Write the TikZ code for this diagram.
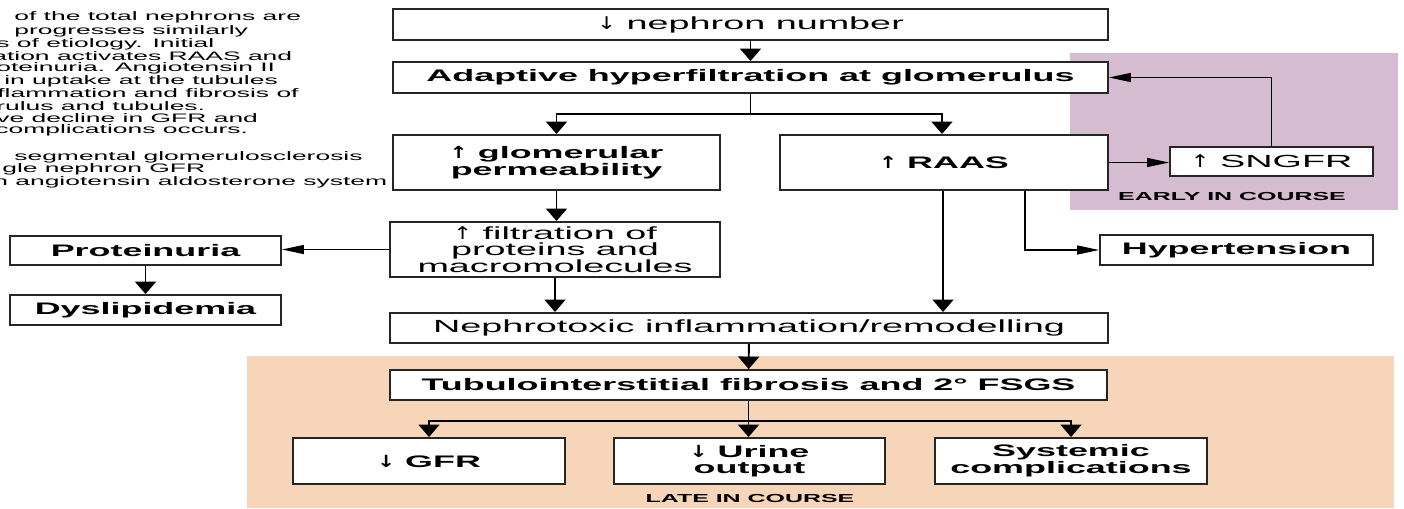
\documentclass[tikz,border=0pt]{standalone}
\usepackage{fontspec}
\setsansfont[FakeStretch=2.15]{Liberation Sans}
\newfontfamily\arrowfont[FakeStretch=1.3]{DejaVu Sans}
\usetikzlibrary{arrows.meta,positioning}

\definecolor{earlybg}{RGB}{214,188,208}
\definecolor{latebg}{RGB}{246,213,184}
\newcommand{\up}{{\arrowfont ↑}}
\newcommand{\down}{{\arrowfont ↓}}

\begin{document}
\begin{tikzpicture}[x=0.02cm, y=-0.02cm,
    box/.style={draw=black!85, line width=1.1pt, fill=white, align=center, inner sep=0pt,
                font=\sffamily\fontsize{10}{9.5}\selectfont},
    boldbox/.style={box, font=\sffamily\bfseries\fontsize{9.5}{9.5}\selectfont},
    arrow/.style={-{Triangle[length=0.25cm,width=0.42cm]}, line width=1.1pt},
    sidearrow/.style={-{Triangle[length=0.44cm,width=0.18cm]}, line width=0.8pt},
    note/.style={font=\sffamily\fontsize{7}{8}\selectfont, anchor=west, inner sep=0pt},
    phase/.style={font=\sffamily\bfseries\fontsize{6.6}{8}\selectfont, inner sep=0pt},
  ]
  \useasboundingbox (0,0) rectangle (1404,508);

  % Backgrounds
  \fill[earlybg] (1070,53) rectangle (1398,210);
  \fill[latebg] (247,356) rectangle (1394,508);
  \node[phase] (early) at (1232,197) {EARLY IN COURSE};
  \node[phase] (late) at (750,498) {LATE IN COURSE};

  % Cut-off caption text
  \begin{scope}
    \clip (0,0) rectangle (390,200);
    \foreach \x/\y/\t [count=\i] in {14/17/of the total nephrons are, 14/31/progresses similarly,
        -4/44/s of etiology. Initial, -8/56/ation activates RAAS and,
        -4/68/oteinuria. Angiotensin II, 4/81/in uptake at the tubules,
        -3/93/flammation and fibrosis of, -4/106/rulus and tubules.,
        -4/118/ve decline in GFR and, -5/130/complications occurs.,
        14/157/segmental glomerulosclerosis, 2/169/gle nephron GFR,
        -7/182/n angiotensin aldosterone system}
      \node[note] (line\i) at (\x,\y) {\t};
  \end{scope}

  % Top chain
  \node[box, minimum width=14.3cm, minimum height=0.62cm] (nephron) at (750.5,24.5) {\down\ nephron number};
  \node[boldbox, minimum width=14.3cm, minimum height=0.62cm] (adapt) at (750.5,77.5) {Adaptive hyperfiltration at glomerulus};

  % Two branches
  \node[boldbox, minimum width=6.54cm, minimum height=1.1cm] (glom) at (556.5,162.5) {\up\ glomerular\\permeability};
  \node[boldbox, minimum width=6.56cm, minimum height=1.1cm] (raas) at (944,162.5) {\up\ RAAS};
  \node[box, minimum width=4.06cm, minimum height=0.58cm] (sngfr) at (1271.5,161.5) {\up\ SNGFR};
  \node[boldbox, minimum width=5.46cm, minimum height=0.6cm] (hyper) at (1236.5,250) {Hypertension};

  % Filtration side
  \node[box, minimum width=6.6cm, minimum height=1.1cm] (filt) at (555,249.5) {\up\ filtration of\\proteins and\\macromolecules};
  \node[boldbox, minimum width=5.42cm, minimum height=0.58cm] (prot) at (145.5,250.5) {Proteinuria};
  \node[boldbox, minimum width=5.42cm, minimum height=0.6cm] (dys) at (145.5,310) {Dyslipidemia};

  % Lower chain
  \node[box, minimum width=14.36cm, minimum height=0.6cm] (nephro) at (749,328) {Nephrotoxic inflammation/remodelling};
  \node[boldbox, minimum width=14.34cm, minimum height=0.6cm] (tubulo) at (748.5,385) {Tubulointerstitial fibrosis and 2° FSGS};
  \node[boldbox, minimum width=5.44cm, minimum height=0.92cm] (gfr) at (429,461) {\down\ GFR};
  \node[boldbox, minimum width=5.42cm, minimum height=0.92cm] (urine) at (749.5,461) {\down\ Urine\\output};
  \node[boldbox, minimum width=5.44cm, minimum height=0.92cm] (syst) at (1071,461) {Systemic\\complications};

  % Arrows
  \draw[arrow] (nephron) -- (adapt);
  \draw[arrow] (adapt.south) -- ++(0,20) -| (glom.north);
  \draw[arrow] (adapt.south) -- ++(0,20) -| ([xshift=-0.04cm]raas.north);
  \draw[sidearrow] (raas.east) -- (raas.east -| sngfr.west);
  \draw[sidearrow] (sngfr.north) |- (adapt.east);
  \draw[sidearrow] ([xshift=1.62cm]raas.south) |- (hyper.west);
  \draw[arrow] ([xshift=-0.02cm]raas.south) -- ([xshift=-0.02cm]raas.south |- nephro.north);
  \draw[arrow] (glom.south) -- (glom.south |- filt.north);
  \draw[sidearrow] (filt.west) -- (filt.west -| prot.east);
  \draw[arrow] (prot) -- (dys);
  \draw[arrow] (filt.south) -- (filt.south |- nephro.north);
  \draw[arrow] (nephro) -- (tubulo);
  \draw[arrow] (tubulo.south) -- ++(0,20) -| (gfr.north);
  \draw[arrow] (tubulo.south) -- (tubulo.south |- urine.north);
  \draw[arrow] (tubulo.south) -- ++(0,20) -| (syst.north);

\end{tikzpicture}
\end{document}
